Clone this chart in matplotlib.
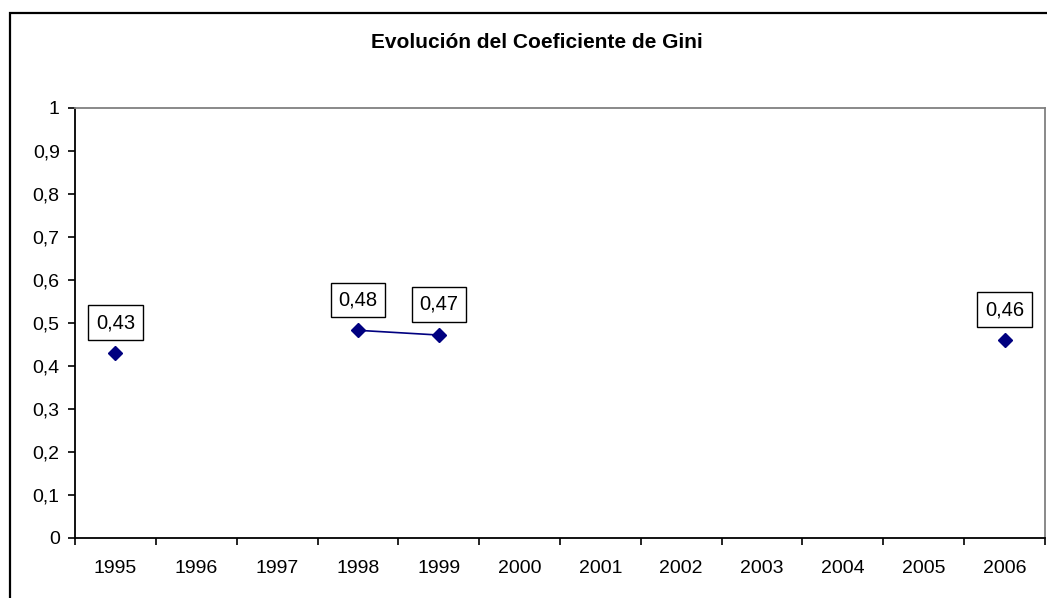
import numpy as np
import matplotlib
matplotlib.use('Agg')
import matplotlib.pyplot as plt
from matplotlib.patches import Rectangle

plt.rcParams['font.family'] = ['Liberation Sans', 'DejaVu Sans']

# data
years = ['1995', '1996', '1997', '1998', '1999', '2000',
         '2001', '2002', '2003', '2004', '2005', '2006']
gini = [0.43, np.nan, np.nan, 0.483, 0.472, np.nan,
        np.nan, np.nan, np.nan, np.nan, np.nan, 0.46]
gini_labels = ['0,43', '', '', '0,48', '0,47', '', '', '', '', '', '', '0,46']

W, H = 1047, 598
fig = plt.figure(figsize=(W / 100, H / 100), dpi=100)

# outer chart border (cut off at right/bottom like the original)
fig.patches.append(Rectangle((10 / W, -0.05), 1.1, 1 - 13 / H + 0.05,
                             transform=fig.transFigure, fill=False,
                             edgecolor='black', linewidth=1.6))

ax = fig.add_axes([75 / W, (H - 538) / H, (1045 - 75) / W, (538 - 108) / H])

x = np.arange(len(years))
y = np.array(gini, dtype=float)
ax.plot(x, y, color='#000080', linewidth=1.2, marker='D', markersize=7,
        markerfacecolor='#000080', markeredgecolor='#000080')

for xi, yi, lab in zip(x, y, gini_labels):
    if np.isnan(yi) or not lab:
        continue
    ax.annotate(lab, (xi, yi), xytext=(0, 22), textcoords='offset points',
                ha='center', va='center', fontsize=14.5,
                bbox=dict(boxstyle='square,pad=0.38', facecolor='white',
                          edgecolor='black', linewidth=1))

ax.set_xlim(-0.5, len(years) - 0.5)
ax.set_ylim(0, 1)

ax.set_xticks(x)
ax.set_xticklabels(years)
ax.set_xticks(np.arange(len(years) + 1) - 0.5, minor=True)
ax.tick_params(axis='x', which='major', length=0, pad=16, labelsize=14)
ax.tick_params(axis='x', which='minor', length=5, width=1.2, direction='out')

yt = np.round(np.arange(0, 1.01, 0.1), 1)
ax.set_yticks(yt)
ax.set_yticklabels([('%g' % v).replace('.', ',') for v in yt])
ax.tick_params(axis='y', length=5, width=1.2, direction='out', pad=6, labelsize=14)

for s in ['left', 'bottom']:
    ax.spines[s].set_color('black')
    ax.spines[s].set_linewidth(1.3)
for s in ['top', 'right']:
    ax.spines[s].set_color('#808080')
    ax.spines[s].set_linewidth(1.3)

fig.text(537 / W, 1 - 43 / H, 'Evolución del Coeficiente de Gini',
         ha='center', va='center', fontsize=15, fontweight='bold')

fig.savefig('out.png', dpi=100)
